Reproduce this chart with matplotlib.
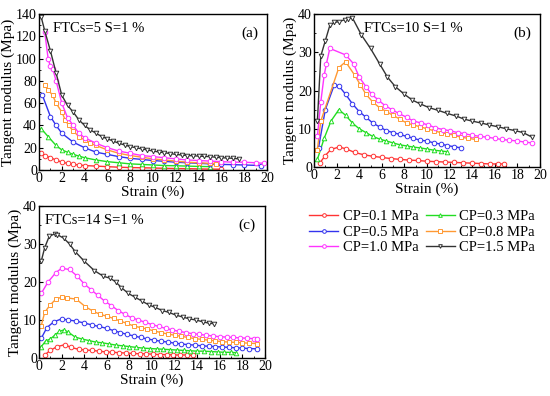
import matplotlib
matplotlib.use("Agg")
import matplotlib.pyplot as plt
from matplotlib.ticker import MultipleLocator

plt.rcParams["font.family"] = ["Liberation Serif", "DejaVu Serif"]

labels = ["CP=0.1 MPa", "CP=0.3 MPa", "CP=0.5 MPa", "CP=0.8 MPa", "CP=1.0 MPa", "CP=1.5 MPa"]
colors = ["#ff3333", "#22dd22", "#3333ee", "#ff9933", "#ff33ff", "#333333"]
markers = ["o", "^", "o", "s", "o", "v"]

# ---- panel (a): FTCs=5 ----
a_x = [
    [0.2, 0.5, 1, 1.5, 2, 2.5, 3, 3.5, 4, 5, 6, 7, 8, 9, 10, 11, 12, 13, 14, 15, 16],
    [0.2, 0.8, 1.5, 2, 2.5, 3, 3.5, 4, 5, 6, 7, 8, 9, 10, 11, 12, 13, 14, 15],
    [0.3, 1, 1.5, 2, 3, 4, 5, 6, 7, 8, 9, 10, 11, 12, 13, 14, 15, 16, 17, 18, 19.5],
    [0.5, 0.8, 1.2, 1.5, 2, 2.3, 2.6, 3, 3.5, 4, 4.5, 5, 6, 7, 8, 9, 10, 11, 12, 13, 14, 15, 15.5],
    [0.5, 0.8, 1.0, 1.2, 1.5, 2, 2.5, 3, 3.5, 4, 5, 6, 7, 8, 9, 10, 11, 12, 13, 14, 15, 16, 17, 18, 19, 19.7],
    [0.2, 0.5, 1, 1.5, 2, 2.5, 3, 3.5, 4, 4.5, 5, 5.5, 6, 6.5, 7, 7.5, 8, 8.5, 9, 9.5, 10, 10.5, 11, 11.5,
     12, 12.5, 13, 13.5, 14, 14.5, 15, 15.5, 16, 16.5, 17, 17.5],
]
a_y = [
    [15, 13, 11, 9, 7, 6, 5, 4.5, 4, 3.5, 3, 2.5, 2.2, 2, 1.8, 1.5, 1.3, 1.2, 1.0, 0.8, 0.7],
    [37, 30, 22, 18, 16, 14, 12.5, 11, 9, 7.5, 6.5, 5.5, 5, 4.5, 4, 3.8, 3.5, 3.2, 3],
    [67, 48, 40, 33, 25, 20, 16, 14, 12, 10.5, 9.5, 8.5, 7.8, 7, 6.5, 6, 5.5, 5, 4.8, 4.5, 4],
    [76, 72, 67, 60, 52, 45, 40, 35, 30, 27, 24, 22, 18, 15, 13, 11.5, 10, 9, 8, 7, 6.5, 6, 5.8],
    [124, 100, 93, 91, 80, 60, 47, 40, 33, 29, 24, 20, 17, 15, 13, 12, 11, 10, 9, 8.5, 8, 7.5, 7, 7, 6.5, 6],
    [137, 125, 107, 87, 67, 58, 52, 45, 40, 36, 33, 30, 28, 26, 24, 22.5, 21, 20, 19, 18, 17, 16.2, 15.5, 14.8,
     14, 13.5, 13, 12.8, 12.5, 12.2, 12, 11.5, 11, 10.8, 10.5, 10],
]

# ---- panel (b): FTCs=10 ----
b_x = [
    [0.5, 1.0, 1.5, 2.2, 2.8, 3.6, 4.4, 5.2, 6.0, 6.8, 7.6, 8.4, 9.2, 10, 10.8, 11.6, 12.4, 13.2, 14, 14.8, 15.6, 16.3, 16.8],
    [0.3, 0.9, 1.5, 2.2, 2.8, 3.4, 4.0, 4.6, 5.2, 5.8, 6.4, 7, 7.6, 8.2, 8.8, 9.4, 10, 10.6, 11.2, 11.8],
    [0.4, 1.0, 1.8, 2.2, 2.8, 3.4, 4.0, 4.6, 5.2, 5.8, 6.4, 7, 7.6, 8.2, 8.8, 9.4, 10, 10.6, 11.2, 11.8, 12.4, 13],
    [0.3, 0.6, 2.2, 2.8, 3.6, 4.1, 4.6, 5.2, 5.8, 6.4, 7, 7.6, 8.2, 8.8, 9.4, 10, 10.6, 11.2, 11.8, 12.4, 13, 13.6, 14.3],
    [0.3, 0.6, 0.9, 1.1, 1.4, 2.8, 3.5, 4.0, 4.6, 5.1, 5.7, 6.3, 6.9, 7.5, 8.2, 8.8, 9.5, 10.1, 10.7, 11.4, 12,
     12.7, 13.3, 14, 14.7, 15.3, 16, 16.6, 17.3, 18, 18.7, 19.3],
    [0.3, 0.6, 1.0, 1.4, 1.8, 2.2, 2.7, 3.0, 3.4, 4.2, 5.0, 5.8, 6.5, 7.2, 8.0, 8.7, 9.4, 10.2, 11, 11.8, 12.6,
     13.3, 14, 14.8, 15.5, 16.3, 17, 17.8, 18.5, 19.3],
]
b_y = [
    [1, 3, 4.6, 5.2, 4.8, 3.8, 3.2, 2.8, 2.5, 2.2, 2.0, 1.8, 1.7, 1.5, 1.4, 1.3, 1.2, 1.1, 1.0, 0.9, 0.8, 0.8, 0.8],
    [2, 7.5, 12, 15, 13.5, 11.5, 10, 9, 8, 7.3, 6.8, 6.3, 5.8, 5.5, 5.2, 5, 4.7, 4.4, 4.2, 4],
    [5, 15, 21.5, 21.2, 19, 16.5, 14.5, 13, 11.5, 10.5, 9.5, 9, 8.5, 8, 7.5, 7, 6.8, 6.3, 6, 5.6, 5.3, 5],
    [4.5, 12, 26, 27.5, 24, 21.5, 19, 17, 15.5, 14.5, 13.5, 12.5, 11.5, 11, 10.5, 10, 9.5, 9, 8.7, 8.3, 7.8, 7.5, 7.2],
    [8, 17, 24, 27, 31, 29.3, 27, 23.5, 21, 19, 17.5, 16, 15, 14, 13, 12, 11.5, 11, 10.3, 9.8, 9.5,
     9, 8.7, 8.3, 8, 7.8, 7.5, 7.2, 7, 6.8, 6.5, 6.3],
    [12, 29, 33, 37, 37.8, 38, 38.5, 38.7, 39, 34.5, 31, 27, 23.5, 21, 19, 17.5, 16.5, 15.5, 14.8, 14, 13.3,
     12.5, 12, 11.5, 11, 10.5, 10, 9.5, 9, 7.8],
]

# ---- panel (c): FTCs=14 ----
c_x = [
    [0.5, 1.0, 1.6, 2.3, 2.8, 3.5, 4.1, 4.7, 5.3, 5.9, 6.5, 7.1, 7.7, 8.3, 8.9, 9.5, 10.1, 10.7, 11.3, 11.9, 12.5, 13.1, 13.6],
    [0.2, 0.6, 1.0, 1.4, 1.8, 2.2, 2.6, 3.2, 3.8, 4.4, 5.0, 5.6, 6.2, 6.8, 7.4, 8, 8.6, 9.2, 9.8, 10.4, 11, 11.6,
     12.2, 12.8, 13.4, 14, 14.6, 15.2, 15.8, 16.4, 17, 17.4],
    [0.2, 0.7, 1.3, 2.0, 2.6, 3.3, 4.0, 4.7, 5.3, 6, 6.6, 7.2, 7.8, 8.4, 9, 9.6, 10.2, 10.8, 11.4, 12, 12.6, 13.2,
     13.8, 14.4, 15, 15.6, 16.2, 16.8, 17.4, 18, 18.6, 19.3],
    [0.2, 0.5, 1.0, 1.5, 2.0, 2.5, 3.3, 4.1, 4.8, 5.4, 6, 6.6, 7.2, 7.8, 8.4, 9, 9.6, 10.2, 10.8, 11.4, 12, 12.6,
     13.2, 13.8, 14.4, 15, 15.6, 16.2, 16.8, 17.4, 18, 18.6, 19.3],
    [0.2, 0.8, 1.5, 2.0, 2.7, 3.4, 4.0, 4.6, 5.2, 5.8, 6.4, 7, 7.6, 8.2, 8.8, 9.4, 10, 10.6, 11.2, 11.8, 12.4, 13,
     13.6, 14.2, 14.8, 15.4, 16, 16.6, 17.2, 17.8, 18.4, 19, 19.3],
    [0.2, 0.5, 0.9, 1.4, 1.6, 2.2, 2.7, 3.2, 4.0, 4.9, 5.7, 6.3, 6.8, 7.3, 7.9, 8.5, 9.1, 9.7, 10.3, 10.9, 11.5,
     12.1, 12.7, 13.3, 13.9, 14.5, 15, 15.5],
]
c_y = [
    [0.8, 2, 3, 3.5, 2.8, 2.3, 2.1, 2, 1.8, 1.6, 1.5, 1.4, 1.3, 1.2, 1.1, 1.1, 1, 0.9, 0.9, 0.8, 0.8, 0.8, 0.7],
    [3, 4.5, 5, 6, 7, 7.4, 6.8, 5.5, 5, 4.6, 4.2, 4, 3.7, 3.4, 3.2, 3, 2.8, 2.6, 2.5, 2.4, 2.3, 2.2,
     2.1, 2, 1.9, 1.8, 1.8, 1.7, 1.6, 1.5, 1.5, 1.4],
    [5.2, 8, 9.5, 10.3, 10, 9.7, 9.2, 8.7, 8.3, 7.8, 7.2, 6.7, 6.2, 5.8, 5.4, 5, 4.7, 4.4, 4.2, 3.9, 3.7, 3.5,
     3.4, 3.2, 3.1, 3, 2.9, 2.8, 2.7, 2.6, 2.5, 2.4],
    [8.5, 12, 14, 15.5, 16, 15.8, 15.5, 13.5, 12.3, 11.5, 11, 10.4, 9.7, 9.1, 8.4, 8, 7.6, 7.1, 6.7, 6.3, 6, 5.7,
     5.4, 5.1, 4.9, 4.7, 4.5, 4.3, 4.2, 4.1, 4, 3.9, 3.8],
    [17, 20, 22.5, 23.6, 23.3, 21.5, 19.5, 18, 16.5, 15, 13.8, 12.5, 11.5, 10.6, 10, 9.4, 8.8, 8.3, 7.8, 7.4, 7, 6.7,
     6.4, 6.2, 6, 5.8, 5.6, 5.5, 5.4, 5.3, 5.2, 5.1, 5],
    [25.5, 29, 32, 32.7, 32.5, 31.5, 30, 28, 25.5, 23, 21.5, 21, 20, 18.5, 17, 16, 15, 14, 13.3, 12.5, 12,
     11.3, 10.8, 10.3, 10, 9.5, 9.2, 9],
]

panels = [
    (a_x, a_y, 140, 20, "FTCs=5 S=1 %", "(a)", 0.06),
    (b_x, b_y, 40, 10, "FTCs=10 S=1 %", "(b)", 0.22),
    (c_x, c_y, 40, 10, "FTCs=14 S=1 %", "(c)", 0.025),
]
# axes rectangles in figure fractions (550x396 px)
rects = [
    [39 / 550, 1 - 170 / 396, 228 / 550, 156 / 396],
    [314 / 550, 1 - 167 / 396, 226 / 550, 153 / 396],
    [39 / 550, 1 - 358 / 396, 226 / 550, 152 / 396],
]

fig = plt.figure(figsize=(5.5, 3.96), dpi=100)
handles = []
for (xs, ys, ymax, ystep, note, tag, nx), rect in zip(panels, rects):
    ax = fig.add_axes(rect)
    handles = []
    for x, y, c, m, lab in zip(xs, ys, colors, markers, labels):
        h, = ax.plot(x, y, color=c, marker=m, markersize=3.3, markerfacecolor="white",
                     markeredgecolor=c, markeredgewidth=0.7, linewidth=1.0, label=lab)
        handles.append(h)
    ax.set_xlim(0, 20)
    ax.set_ylim(0, ymax)
    ax.xaxis.set_major_locator(MultipleLocator(2))
    ax.xaxis.set_minor_locator(MultipleLocator(1))
    ax.yaxis.set_major_locator(MultipleLocator(ystep))
    ax.yaxis.set_minor_locator(MultipleLocator(ystep / 2))
    ax.tick_params(which="both", direction="in", labelsize=10, pad=1.5)
    ax.tick_params(which="major", length=3)
    ax.tick_params(which="minor", length=1.5)
    ax.set_xlabel("Strain (%)", fontsize=11, labelpad=0)
    ax.set_ylabel("Tangent modulus (Mpa)", fontsize=11, labelpad=1)
    for s in ax.spines.values():
        s.set_linewidth(1.0)
    ax.text(nx, 0.95, note, transform=ax.transAxes, fontsize=10.5, va="top", ha="left")
    ax.text(0.96, 0.92, tag, transform=ax.transAxes, fontsize=11, va="top", ha="right")

# legend filled row by row: (0.1, 0.3), (0.5, 0.8), (1.0, 1.5)
order = [0, 2, 4, 1, 3, 5]
fig.legend([handles[i] for i in order], [labels[i] for i in order], ncol=2, loc="upper left",
           bbox_to_anchor=(302 / 550, 1 - 203 / 396), frameon=False, fontsize=10.5,
           handlelength=2.0, handletextpad=0.3, columnspacing=0.5, labelspacing=0.15,
           borderpad=0, markerscale=0.8)

fig.savefig("out.png", dpi=100)
